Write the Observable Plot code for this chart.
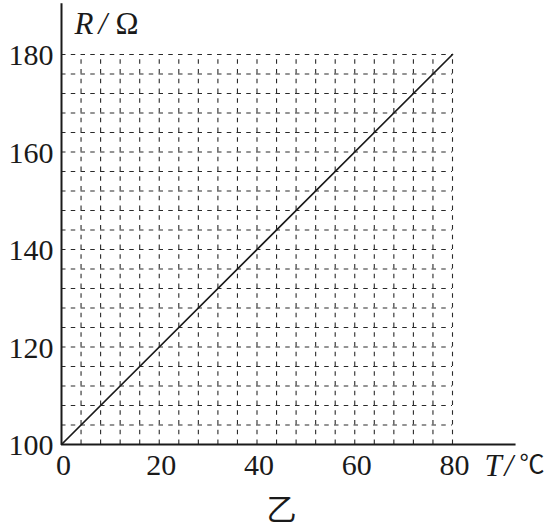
<!DOCTYPE html>
<html>
<head>
<meta charset="utf-8">
<script src="https://cdn.jsdelivr.net/npm/d3@7"></script>
<script src="https://cdn.jsdelivr.net/npm/@observablehq/plot@0.6"></script>
<style>
  html, body { margin: 0; padding: 0; background: #fff; }
</style>
</head>
<body>
<div id="chart"></div>
<script>
// Data: resistance R (Ω) vs temperature T (℃)
const temperature = [0, 80];
const resistance = [100, 180];
const xTicks = [0, 20, 40, 60, 80];
const yTicks = [100, 120, 140, 160, 180];
const gridT = [4, 8, 12, 16, 20, 24, 28, 32, 36, 40, 44, 48, 52, 56, 60, 64, 68, 72, 76, 80];
const gridR = [104, 108, 112, 116, 120, 124, 128, 132, 136, 140, 144, 148, 152, 156, 160, 164, 168, 172, 176, 180];
const xAxisEnd = 92.9;   // arrow tip along T
const yAxisEnd = 190.5;  // arrow tip along R
const caption = "乙";

const lineData = temperature.map((t, i) => ({T: t, R: resistance[i]}));
const ink = "#1a1a1a";
const gridInk = "#2a2a2a";
const serif = "'Liberation Serif', 'Times New Roman', serif";

const plot = Plot.plot({
  width: 545,
  height: 530,
  marginLeft: 61,
  marginRight: 93,
  marginTop: 54,
  marginBottom: 86,
  x: {domain: [0, 80], axis: null},
  y: {domain: [100, 180], axis: null},
  style: {background: "#fff", overflow: "visible"},
  marks: [
    // dashed grid
    Plot.ruleX(gridT, {x: d => d, y1: 100, y2: 180, stroke: gridInk, strokeWidth: 1.1, strokeDasharray: "4.5,5.25"}),
    Plot.ruleY(gridR, {y: d => d, x1: 0, x2: 80, stroke: gridInk, strokeWidth: 1.1, strokeDasharray: "4.5,5.25"}),
    // axes with arrows
    Plot.link([0], {x1: 0, y1: 100, x2: xAxisEnd, y2: 100, stroke: ink, strokeWidth: 2, ariaLabel: "axis-arrow"}),
    Plot.link([0], {x1: 0, y1: 100, x2: 0, y2: yAxisEnd, stroke: ink, strokeWidth: 2, ariaLabel: "axis-arrow"}),
    // data line
    Plot.line(lineData, {x: "T", y: "R", stroke: ink, strokeWidth: 1.7}),
    // tick labels
    Plot.text(xTicks, {x: d => d, y: 100, text: d => String(d), lineAnchor: "top", dy: 9, dx: 2,
      fontSize: 30, fontFamily: serif, fill: ink}),
    Plot.text(yTicks, {x: 0, y: d => d, text: d => String(d), textAnchor: "end", dx: -8, dy: 1,
      fontSize: 30, fontFamily: serif, fill: ink}),
    // axis titles
    Plot.text(["R"], {frameAnchor: "top-left", text: d => d, textAnchor: "start", lineAnchor: "bottom",
      dx: 13, dy: -21, fontSize: 31, fontFamily: serif, fontStyle: "italic", fill: ink}),
    Plot.text(["/"], {frameAnchor: "top-left", text: d => d, textAnchor: "start", lineAnchor: "bottom",
      dx: 37, dy: -21, fontSize: 31, fontFamily: serif, fontStyle: "italic", fill: ink}),
    Plot.text(["Ω"], {frameAnchor: "top-left", text: d => d, textAnchor: "start", lineAnchor: "bottom",
      dx: 54, dy: -21, fontSize: 31, fontFamily: serif, fill: ink}),
    Plot.text(["T"], {frameAnchor: "bottom-right", text: d => d, textAnchor: "start", lineAnchor: "bottom",
      dx: 32, dy: 31, fontSize: 31, fontFamily: serif, fontStyle: "italic", fill: ink}),
    Plot.text(["/"], {frameAnchor: "bottom-right", text: d => d, textAnchor: "start", lineAnchor: "bottom",
      dx: 52, dy: 31, fontSize: 31, fontFamily: serif, fontStyle: "italic", fill: ink}),
    Plot.text(["℃"], {frameAnchor: "bottom-right", text: d => d, textAnchor: "end", lineAnchor: "bottom",
      dx: 92, dy: 28, fontSize: 25, fontFamily: "'Noto Sans CJK SC', sans-serif", fill: ink}),
    // caption
    Plot.text([caption], {x: 45, y: 100, text: d => d, dy: 66, fontSize: 30,
      fontFamily: "'Noto Sans CJK SC', sans-serif", fill: ink})
  ]
});

// filled arrowheads on axes
const ns = "http://www.w3.org/2000/svg";
const defs = document.createElementNS(ns, "defs");
const marker = document.createElementNS(ns, "marker");
marker.setAttribute("id", "axis-head");
marker.setAttribute("viewBox", "0 0 15 7");
marker.setAttribute("refX", "15");
marker.setAttribute("refY", "3.5");
marker.setAttribute("markerWidth", "15");
marker.setAttribute("markerHeight", "7");
marker.setAttribute("markerUnits", "userSpaceOnUse");
marker.setAttribute("orient", "auto");
const head = document.createElementNS(ns, "path");
head.setAttribute("d", "M0,0 L15,3.5 L0,7 L4,3.5 Z");
head.setAttribute("fill", ink);
marker.appendChild(head);
defs.appendChild(marker);
plot.insertBefore(defs, plot.firstChild);
plot.querySelectorAll('g[aria-label="axis-arrow"] path').forEach(p => p.setAttribute("marker-end", "url(#axis-head)"));

document.getElementById("chart").appendChild(plot);
</script>
</body>
</html>
